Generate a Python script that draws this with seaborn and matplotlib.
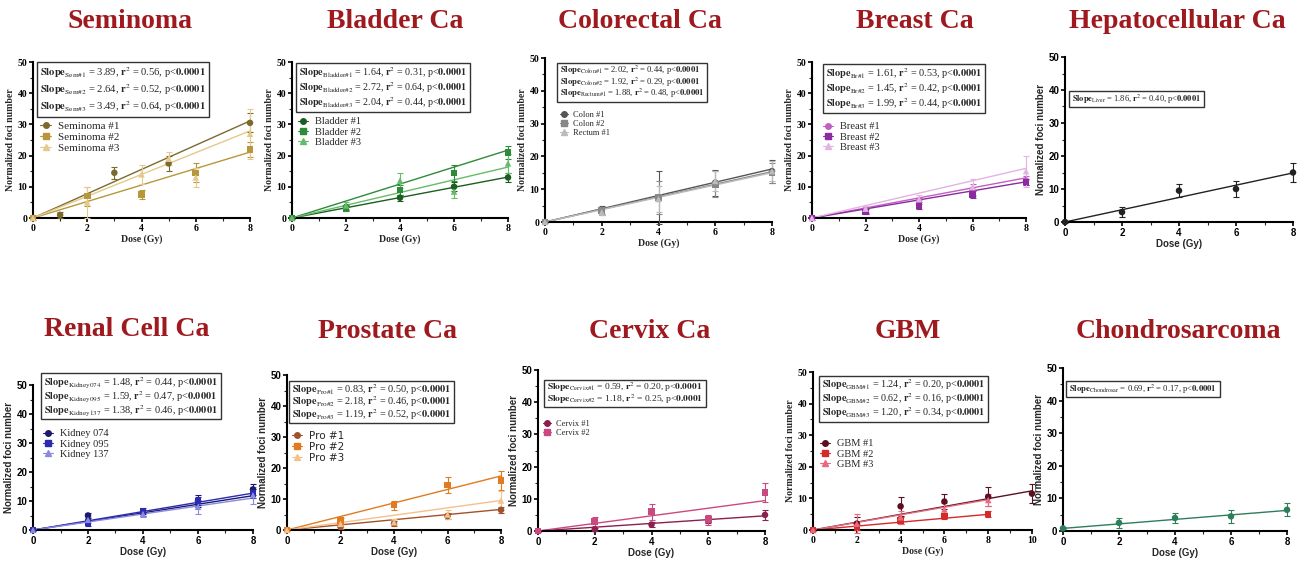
import pandas as pd
import seaborn as sns
import matplotlib.pyplot as plt
from matplotlib.lines import Line2D
from matplotlib.ticker import MultipleLocator

W, H = 1301, 561

# ---------------- data ----------------
sem_names = ["Seminoma #1", "Seminoma #2", "Seminoma #3"]
sem_sub = ["Sem\\#1", "Sem\\#2", "Sem\\#3"]
sem_slope = [3.89, 2.64, 3.49]
sem_r2 = ["0.56", "0.52", "0.64"]
sem_x = [[0, 1, 3, 5, 8], [0, 2, 4, 6, 8], [0, 2, 4, 5, 6, 8]]
sem_y = [[0, 1, 14.5, 17.5, 30.5], [0, 7, 7.5, 14.5, 22], [0, 5, 14, 19, 13, 27]]
sem_err = [[0.5, 1, 2, 2.5, 3], [0.5, 3, 1.5, 3, 2.5], [0.5, 5, 3, 2, 3, 8]]

bla_names = ["Bladder #1", "Bladder #2", "Bladder #3"]
bla_sub = ["Bladder\\#1", "Bladder\\#2", "Bladder\\#3"]
bla_slope = [1.64, 2.72, 2.04]
bla_r2 = ["0.31", "0.64", "0.44"]
bla_x = [[0, 2, 4, 6, 8]] * 3
bla_y = [[0, 3.5, 6.5, 10, 13], [0, 3, 9, 14.5, 21], [0, 4, 12, 8.5, 17.5]]
bla_err = [[0.3, 0.8, 1, 1.5, 1.5], [0.3, 0.8, 1.5, 2.5, 2], [0.3, 1, 2.5, 2, 3]]

col_names = ["Colon #1", "Colon #2", "Rectum #1"]
col_sub = ["Colon\\#1", "Colon\\#2", "Rectum\\#1"]
col_slope = [2.02, 1.92, 1.88]
col_r2 = ["0.44", "0.29", "0.48"]
col_x = [[0, 2, 4, 6, 8]] * 3
col_y = [[0, 3.5, 7.5, 12, 15.5], [0, 3.5, 7.5, 11.5, 15], [0, 3, 7, 12.5, 15.5]]
col_err = [[0.3, 1.5, 8, 4, 3.5], [0.3, 1, 5, 4, 3], [0.3, 1, 4, 3, 3]]

br_names = ["Breast #1", "Breast #2", "Breast #3"]
br_sub = ["Br\\#1", "Br\\#2", "Br\\#3"]
br_slope = [1.61, 1.45, 1.99]
br_r2 = ["0.53", "0.42", "0.44"]
br_x = [[0, 2, 4, 6, 8]] * 3
br_y = [[0, 2.5, 5.5, 9, 12], [0, 2, 4, 7.5, 11.5], [0, 3, 6, 10, 15]]
br_err = [[0.5, 1, 1, 2, 1.5], [0.5, 0.8, 1, 1, 1], [0.5, 1, 1.5, 2.5, 5]]

liv_names = ["Liver"]
liv_sub = ["Liver"]
liv_slope = [1.86]
liv_r2 = ["0.40"]
liv_x = [[0, 2, 4, 6, 8]]
liv_y = [[0, 3, 9.5, 10, 15]]
liv_err = [[0.3, 1.5, 2, 2.5, 3]]

kid_names = ["Kidney 074", "Kidney 095", "Kidney 137"]
kid_sub = ["Kidney074", "Kidney095", "Kidney137"]
kid_slope = [1.48, 1.59, 1.38]
kid_r2 = ["0.44", "0.47", "0.46"]
kid_x = [[0, 2, 4, 6, 8]] * 3
kid_y = [[0, 5, 6, 10, 14], [0, 2.5, 6.5, 10, 12.5], [0, 3.5, 5.5, 8, 12]]
kid_err = [[0.5, 1, 1, 2, 2], [0.5, 1, 1, 1.5, 1.5], [0.5, 1, 1, 2.5, 3]]

pro_names = ["Pro #1", "Pro #2", "Pro #3"]
pro_sub = ["Pro\\#1", "Pro\\#2", "Pro\\#3"]
pro_slope = [0.83, 2.18, 1.19]
pro_r2 = ["0.50", "0.46", "0.52"]
pro_x = [[0, 2, 4, 6, 8]] * 3
pro_y = [[0, 1, 2, 4.5, 6.5], [0, 3, 8, 14.5, 16], [0, 2, 2.5, 5, 9.5]]
pro_err = [[0.3, 0.8, 0.8, 1, 1], [0.3, 1, 1.5, 2.5, 3], [0.3, 1, 1, 1.5, 3]]

cer_names = ["Cervix #1", "Cervix #2"]
cer_sub = ["Cervix\\#1", "Cervix\\#2"]
cer_slope = [0.59, 1.18]
cer_r2 = ["0.20", "0.25"]
cer_x = [[0, 2, 4, 6, 8]] * 2
cer_y = [[0, 0.5, 2, 3.5, 5], [0, 3, 6, 3.5, 12]]
cer_err = [[0.3, 0.5, 0.8, 1, 1.5], [0.3, 1.5, 2.5, 1.5, 3]]

gbm_names = ["GBM #1", "GBM #2", "GBM #3"]
gbm_sub = ["GBM\\#1", "GBM\\#2", "GBM\\#3"]
gbm_slope = [1.24, 0.62, 1.20]
gbm_r2 = ["0.20", "0.16", "0.34"]
gbm_x = [[0, 2, 4, 6, 8, 10], [0, 2, 4, 6, 8], [0, 2, 4, 6, 8]]
gbm_y = [[0, 2, 7.5, 9, 10.5, 11.5], [0, 1, 3, 4.5, 5], [0, 2, 4, 6.5, 9.5]]
gbm_err = [[0.3, 2, 3, 2.5, 3, 3], [0.3, 1, 1, 1, 1], [0.3, 3, 2, 2, 2]]

cho_names = ["Chondrosar"]
cho_sub = ["Chondrosar"]
cho_slope = [0.69]
cho_icpt = [0.8]
cho_r2 = ["0.17"]
cho_x = [[0, 2, 4, 6, 8]]
cho_y = [[0.8, 2.5, 4, 4.5, 6.5]]
cho_err = [[0.3, 1.5, 1.5, 2, 2]]

# ---------------- layout (pixel coordinates of the reference) ----------------
panels = [
    dict(title="Seminoma", t=(130, 21), ax=(33, 250, 62, 218), xmax=8,
         d=(sem_names, sem_sub, sem_slope, sem_r2, sem_x, sem_y, sem_err),
         colors=["#7A6A2E", "#B8963C", "#E6C98A"], box=(37, 62, 7.6, 17), leg=(40, 121, 8)),
    dict(title="Bladder Ca", t=(395, 21), ax=(292, 508, 62, 218), xmax=8,
         d=(bla_names, bla_sub, bla_slope, bla_r2, bla_x, bla_y, bla_err),
         colors=["#1B5E20", "#2E8B3A", "#66BB6A"], box=(296, 63, 7.2, 15), leg=(298, 117, 7.5)),
    dict(title="Colorectal Ca", t=(640, 21), ax=(545, 772, 58, 222), xmax=8,
         d=(col_names, col_sub, col_slope, col_r2, col_x, col_y, col_err),
         colors=["#555555", "#888888", "#BBBBBB"], box=(557, 63, 6.2, 11.5), leg=(560, 111, 6)),
    dict(title="Breast Ca", t=(915, 21), ax=(812, 1026, 62, 218), xmax=8,
         d=(br_names, br_sub, br_slope, br_r2, br_x, br_y, br_err),
         colors=["#C060C0", "#8A2BA0", "#E3B3E3"], box=(823, 64, 7.4, 15), leg=(823, 122, 7.5)),
    dict(title="Hepatocellular Ca", t=(1177, 21), ax=(1065, 1293, 57, 222), xmax=8,
         d=(liv_names, liv_sub, liv_slope, liv_r2, liv_x, liv_y, liv_err),
         colors=["#222222"], box=(1069, 91, 6.0, 12), leg=None, sans=True),
    dict(title="Renal Cell Ca", t=(127, 329), ax=(33, 253, 385, 530), xmax=8,
         d=(kid_names, kid_sub, kid_slope, kid_r2, kid_x, kid_y, kid_err),
         colors=["#1A1A6E", "#2B2BB0", "#8A8AE0"], box=(41, 373, 7.4, 14), leg=(43, 429, 7.5), sans=True),
    dict(title="Prostate Ca", t=(387, 331), ax=(287, 501, 375, 530), xmax=8,
         d=(pro_names, pro_sub, pro_slope, pro_r2, pro_x, pro_y, pro_err),
         colors=["#A0522D", "#E07B20", "#F5C08A"], box=(289, 381, 7.4, 12.5), leg=(292, 431, 7.5), sans=True),
    dict(title="Cervix Ca", t=(650, 332), ax=(538, 765, 370, 531), xmax=8,
         d=(cer_names, cer_sub, cer_slope, cer_r2, cer_x, cer_y, cer_err),
         colors=["#8A2050", "#C94A80"], box=(544, 380, 6.8, 11.5), leg=(543, 420, 6), sans=True),
    dict(title="GBM", t=(908, 332), ax=(813, 1032, 372, 530), xmax=10,
         d=(gbm_names, gbm_sub, gbm_slope, gbm_r2, gbm_x, gbm_y, gbm_err),
         colors=["#5A1020", "#D42A2A", "#E86A80"], box=(819, 376, 7.3, 14), leg=(820, 439, 7.5)),
    dict(title="Chondrosarcoma", t=(1178, 332), ax=(1063, 1287, 368, 531), xmax=8,
         d=(cho_names, cho_sub, cho_slope, cho_r2, cho_x, cho_y, cho_err),
         colors=["#2E7D5B"], box=(1066, 381, 6.2, 12), leg=None, sans=True, icpt=cho_icpt),
]

sns.set_theme(style="ticks")
plt.rcParams["font.family"] = ["Liberation Serif", "DejaVu Serif"]
plt.rcParams["mathtext.fontset"] = "stix"

fig = plt.figure(figsize=(W / 100, H / 100), dpi=100)
fig.patch.set_facecolor("white")
MARKERS = ["o", "s", "^"]
SERIF = ["Liberation Serif", "DejaVu Serif"]
SANS = ["Liberation Sans", "DejaVu Sans"]


def fx(px):
    return px / W


def fy(py):
    return 1 - py / H


for p in panels:
    names, subs, slopes, r2s, xs, ys, errs = p["d"]
    x0, x1, yt, yb = p["ax"]
    ax = fig.add_axes([fx(x0), fy(yb), fx(x1 - x0), (yb - yt) / H])
    ax.set_facecolor("white")
    fam = SANS if p.get("sans") else SERIF
    icpts = p.get("icpt", [0] * len(names))

    rows, fits = [], []
    for i, nm in enumerate(names):
        for xv, yv, ev in zip(xs[i], ys[i], errs[i]):
            rows.append(dict(dose=xv, foci=yv, err=ev, series=nm))
        for xv in (0, max(xs[i])):
            fits.append(dict(dose=xv, foci=icpts[i] + slopes[i] * xv, series=nm))
    df = pd.DataFrame(rows)
    fit = pd.DataFrame(fits)
    pal = dict(zip(names, p["colors"]))

    sns.lineplot(data=fit, x="dose", y="foci", hue="series", palette=pal,
                 legend=False, ax=ax, lw=1.0, zorder=2)
    for nm, g in df.groupby("series", sort=False):
        ax.errorbar(g["dose"], g["foci"], yerr=g["err"], fmt="none", ecolor=pal[nm],
                    elinewidth=0.8, capsize=2, capthick=0.8, clip_on=False, zorder=3)
    sns.scatterplot(data=df, x="dose", y="foci", hue="series", style="series",
                    palette=pal, markers=dict(zip(names, MARKERS)), s=22,
                    edgecolor="none", legend=False, ax=ax, clip_on=False, zorder=4)

    ax.set_xlim(0, p["xmax"])
    ax.set_ylim(0, 50)
    ax.xaxis.set_major_locator(MultipleLocator(2))
    ax.xaxis.set_minor_locator(MultipleLocator(1))
    ax.yaxis.set_major_locator(MultipleLocator(10))
    ax.yaxis.set_minor_locator(MultipleLocator(5))
    for s in ("top", "right"):
        ax.spines[s].set_visible(False)
    for s in ("left", "bottom"):
        ax.spines[s].set_linewidth(1.5)
        ax.spines[s].set_color("black")
    ax.tick_params(which="major", length=3, width=1.2, pad=1, labelsize=7, colors="black")
    ax.tick_params(which="minor", length=2, width=0.8)
    for lab in ax.get_xticklabels() + ax.get_yticklabels():
        lab.set_fontweight("bold")
        lab.set_family(fam)
    ax.set_xlabel("Dose (Gy)", fontsize=7, fontweight="bold", family=fam, labelpad=1)
    ax.set_ylabel("Normalized foci number", fontsize=7, fontweight="bold", family=fam, labelpad=2)

    # title
    fig.text(fx(p["t"][0]), fy(p["t"][1]), p["title"], ha="center", va="center",
             fontsize=20, fontweight="bold", color="#9E1A1F", family=SERIF)

    # slope box: one text per line, fixed pixel step, framed by a rectangle
    bx, by, bfs, step = p["box"]
    texts = []
    for k, (sub, sl, r2) in enumerate(zip(subs, slopes, r2s)):
        s = (r"$\mathbf{Slope}_{\mathrm{%s}}$ = %.2f, $\mathbf{r}^2$ = %s, p<$\mathbf{0.0001}$"
             % (sub, sl, r2))
        texts.append(fig.text(fx(bx + 3), fy(by + 2 + step * (k + 0.5)), s, ha="left",
                              va="center", fontsize=bfs, family=SERIF))
    fig.canvas.draw()
    rend = fig.canvas.get_renderer()
    wmax = max(t.get_window_extent(rend).width for t in texts)
    fig.patches.append(plt.Rectangle((fx(bx), fy(by + 4 + step * len(texts))),
                                     fx(wmax + 6), (4 + step * len(texts)) / H,
                                     transform=fig.transFigure, fill=False,
                                     ec="#333333", lw=1.0))

    # legend
    if p["leg"] is not None:
        lx, ly, lfs = p["leg"]
        handles = [Line2D([], [], color=c, marker=m, markersize=4, lw=0.8)
                   for c, m in zip(p["colors"], MARKERS)]
        leg_fam = ["DejaVu Sans"] if p["title"] == "Prostate Ca" else ["Liberation Serif"]
        ax.legend(handles, names, loc="upper left", bbox_to_anchor=(fx(lx), fy(ly)),
                  bbox_transform=fig.transFigure, frameon=False, handlelength=1.0,
                  handletextpad=0.6, labelspacing=0.1, borderpad=0, borderaxespad=0,
                  prop=dict(family=leg_fam, size=lfs))

fig.savefig("out.png", dpi=100, facecolor="white")
